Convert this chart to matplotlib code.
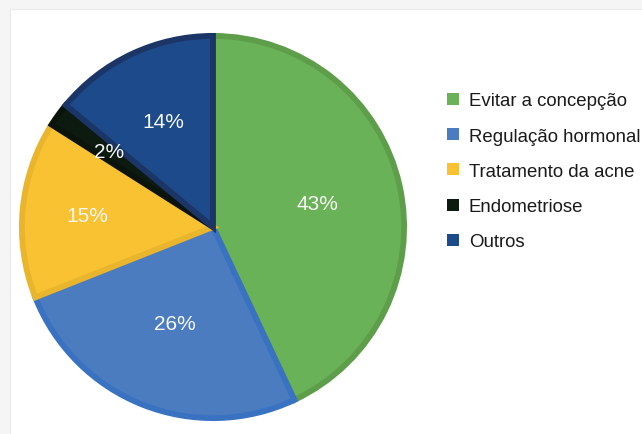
import numpy as np
import matplotlib.pyplot as plt
from matplotlib.patches import Rectangle

plt.rcParams['font.family'] = ['Liberation Sans', 'DejaVu Sans']

categories = ['Evitar a concepção', 'Regulação hormonal', 'Tratamento da acne',
              'Endometriose', 'Outros']
values = [43, 26, 15, 2, 14]
fill_colors = ['#6ab257', '#4c7cc0', '#f8c232', '#0c1a10', '#1d4a8b']
edge_colors = ['#5e9e4b', '#3a72c2', '#e9b52c', '#0a140c', '#1b3566']
label_radii = [0.55, 0.53, 0.65, 0.66, 0.6]

fig = plt.figure(figsize=(6.42, 4.35), dpi=100)
fig.patch.set_facecolor('white')

# faint card shadow along the top and left edges
fig.add_artist(Rectangle((0, 0), 1, 1, transform=fig.transFigure,
                         facecolor='#f5f5f5', edgecolor='none', zorder=0))
fig.add_artist(Rectangle((10 / 642, -0.01), 1, 1 - 10 / 435 + 0.01,
                         transform=fig.transFigure, facecolor='white',
                         edgecolor='#e9e9e9', linewidth=0.8, zorder=0))

ax = fig.add_axes([18 / 642, 12 / 435, 390 / 642, 390 / 435])
wedges, _ = ax.pie(values, startangle=90, counterclock=False,
                   colors=fill_colors, radius=0.98,
                   wedgeprops={'linewidth': 4.2, 'joinstyle': 'miter'})
for w, ec in zip(wedges, edge_colors):
    w.set_edgecolor(ec)

angle = 90.0
for v, r in zip(values, label_radii):
    span = v / sum(values) * 360
    mid = np.deg2rad(angle - span / 2)
    ax.text(r * np.cos(mid), r * np.sin(mid), f'{v}%', color='#f7f7f7',
            fontsize=15, ha='center', va='center')
    angle -= span

ax.set_xlim(-1, 1)
ax.set_ylim(-1, 1)
ax.set_aspect('equal')
ax.axis('off')

leg = fig.legend(wedges, categories, loc='upper left',
                 bbox_to_anchor=(440 / 642, 1 - 86 / 435),
                 frameon=False, fontsize=13.4, handlelength=0.6,
                 handleheight=0.6, handletextpad=0.55, labelspacing=0.98,
                 borderaxespad=0)
for h, c in zip(leg.legend_handles, fill_colors):
    h.set_edgecolor('none')
    h.set_facecolor(c)
for t in leg.get_texts():
    t.set_color('#1a1a1a')

fig.savefig('out.png', dpi=100)
